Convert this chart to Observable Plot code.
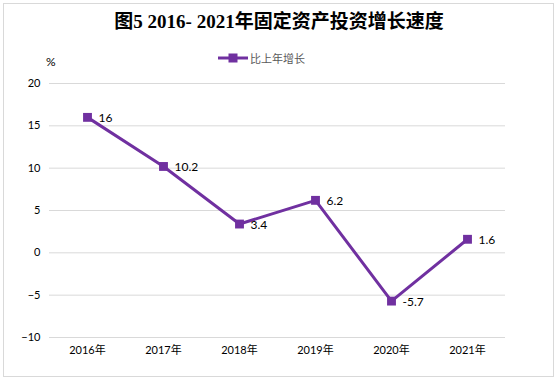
<!DOCTYPE html>
<html><head><meta charset="utf-8">
<script src="https://cdn.jsdelivr.net/npm/d3@7"></script>
<script src="https://cdn.jsdelivr.net/npm/@observablehq/plot@0.6"></script>
<style>
body{margin:0;background:#fff;}
#wrap{position:relative;width:558px;height:381px;overflow:hidden;font-family:Lato,"Noto Sans CJK SC",sans-serif;}
#frame{position:absolute;left:3px;top:3px;width:551px;height:374px;border:1px solid #d9d9d9;box-sizing:border-box;}
#title{position:absolute;left:0;width:558px;top:8px;text-align:center;font-family:"Liberation Serif","Noto Sans CJK SC",serif;font-weight:bold;font-size:19px;color:#000;line-height:28px;}
#legend{position:absolute;left:218px;top:50px;font-size:11px;color:#595959;display:flex;align-items:center;gap:2px;}
#unit{position:absolute;left:46px;top:54px;font-size:12px;color:#000;}
#chart{position:absolute;left:0;top:0;}
</style></head>
<body>
<div id="wrap">
<div id="frame"></div>
<div id="chart"></div>
<div id="title"></div>
<div id="legend"></div>
<div id="unit">%</div>
</div>
<script>
const title = "图5 2016- 2021年固定资产投资增长速度";
const seriesName = "比上年增长";
const years = ["2016年","2017年","2018年","2019年","2020年","2021年"];
const growth = [16, 10.2, 3.4, 6.2, -5.7, 1.6];
const yTicks = [-10,-5,0,5,10,15,20];
const color = "#7030a0";

document.getElementById("title").textContent = title;
document.getElementById("legend").innerHTML =
  `<svg width="30" height="12"><line x1="0" y1="6" x2="30" y2="6" stroke="${color}" stroke-width="3"/><rect x="10.5" y="1.5" width="9" height="9" fill="${color}"/></svg><span>${seriesName}</span>`;

const data = years.map((y,i)=>({year:y, value:growth[i]}));

const chart = Plot.plot({
  width: 558, height: 381,
  marginTop: 83, marginBottom: 44, marginLeft: 49, marginRight: 53,
  style: {fontFamily: 'Lato,"Noto Sans CJK SC",sans-serif', fontSize: "11px", background: "transparent", color:"#000"},
  x: {type: "point", domain: years, padding: 0.5, label: null},
  y: {domain: [-10, 20], ticks: yTicks, label: null},
  marks: [
    Plot.gridY(yTicks, {stroke: "#d9d9d9", strokeOpacity: 1, strokeWidth: 1}),
    Plot.axisY(yTicks, {tickSize: 0, tickPadding: 9, fontSize: 11, fill: "#000", label: null}),
    Plot.axisX(years, {tickSize: 0, tickPadding: 9, fontSize: 11, fill: "#000", label: null}),
    Plot.line(data, {x: "year", y: "value", stroke: color, strokeWidth: 3}),
    Plot.dot(data, {x: "year", y: "value", symbol: "square", r: 5, fill: color, stroke: "none"}),
    Plot.text(data, {x: "year", y: "value", text: d => String(d.value), dx: 11, dy: 1, textAnchor: "start", fontSize: 12, fill: "#000"})
  ]
});
document.getElementById("chart").appendChild(chart);
</script>
</body></html>
